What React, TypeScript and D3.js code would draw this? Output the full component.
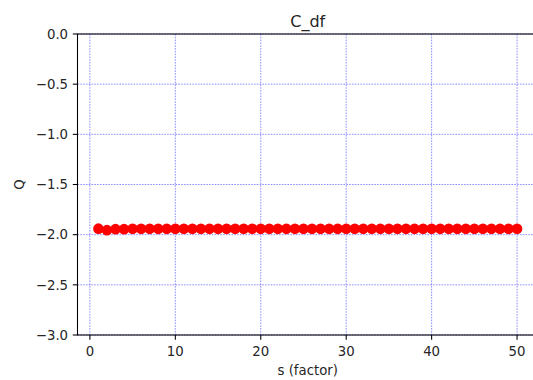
import React from "react";
import * as d3 from "d3";

// Series: s (factor) from 1 to 50, Q values
const sValues: number[] = Array.from({ length: 50 }, (_, i) => i + 1);
const qValues: number[] = [
  -1.94, -1.955, -1.945, -1.945, -1.942, -1.942, -1.942, -1.942, -1.942, -1.942,
  -1.942, -1.942, -1.942, -1.942, -1.942, -1.942, -1.942, -1.942, -1.942, -1.942,
  -1.942, -1.942, -1.942, -1.942, -1.942, -1.942, -1.942, -1.942, -1.942, -1.942,
  -1.942, -1.942, -1.942, -1.942, -1.942, -1.942, -1.942, -1.942, -1.942, -1.942,
  -1.942, -1.942, -1.942, -1.942, -1.942, -1.942, -1.942, -1.942, -1.942, -1.942,
];
const xTicks: number[] = [0, 10, 20, 30, 40, 50];
const yTicks: number[] = [0, -0.5, -1, -1.5, -2, -2.5, -3];
const title = "C_df";
const xLabel = "s (factor)";
const yLabel = "Q";

const W = 533;
const H = 380;
const left = 77.5;
const right = 538;
const top = 34;
const bottom = 335;
const tickLen = 4.7;
const tickPad = 4.7;

const fmtY = (v: number) => (v < 0 ? "\u2212" : "") + Math.abs(v).toFixed(1);

export default function App() {
  const x = d3.scaleLinear().domain([1 - 2.45, 50 + 2.45]).range([left, right]);
  const y = d3.scaleLinear().domain([-3, 0]).range([bottom, top]);
  const font = "DejaVu Sans, sans-serif";
  const textColor = "#262626";
  const gridStyle = { stroke: "#0000ff", strokeWidth: 0.8, strokeDasharray: "1.6,1.2", opacity: 0.55 };

  return (
    <div style={{ position: "absolute", left: 0, top: 0, width: W, height: H, overflow: "hidden", background: "#fff" }}>
      <svg width={W} height={H} style={{ display: "block" }} fontFamily={font}>
        <rect x={0} y={0} width={W} height={H} fill="#fff" />
        {/* grid */}
        {xTicks.map((t) => (
          <line key={"gx" + t} x1={x(t)} x2={x(t)} y1={top} y2={bottom} {...gridStyle} />
        ))}
        {yTicks.map((t) => (
          <line key={"gy" + t} x1={left} x2={right} y1={y(t)} y2={y(t)} {...gridStyle} />
        ))}
        {/* markers */}
        {sValues.map((s, i) => (
          <circle key={"p" + s} cx={x(s)} cy={y(qValues[i])} r={5.3} fill="#ff0000" />
        ))}
        {/* spines */}
        <rect x={left} y={top} width={right - left} height={bottom - top} fill="none" stroke="#000" strokeWidth={1.07} />
        {/* x ticks */}
        {xTicks.map((t) => (
          <g key={"xt" + t}>
            <line x1={x(t)} x2={x(t)} y1={bottom} y2={bottom + tickLen} stroke="#000" strokeWidth={1.07} />
            <text x={x(t)} y={bottom + 21} fontSize={13.3} textAnchor="middle" fill={textColor}>
              {t}
            </text>
          </g>
        ))}
        {/* y ticks */}
        {yTicks.map((t) => (
          <g key={"yt" + t}>
            <line x1={left - tickLen} x2={left} y1={y(t)} y2={y(t)} stroke="#000" strokeWidth={1.07} />
            <text x={left - tickLen - tickPad} y={y(t) + 4.8} fontSize={13.3} textAnchor="end" fill={textColor}>
              {fmtY(t)}
            </text>
          </g>
        ))}
        {/* labels */}
        <text x={(left + right) / 2} y={27} fontSize={16} textAnchor="middle" fill={textColor}>
          {title}
        </text>
        <text x={(left + right) / 2} y={375} fontSize={13.3} textAnchor="middle" fill={textColor}>
          {xLabel}
        </text>
        <text
          transform={`translate(24, ${(top + bottom) / 2}) rotate(-90)`}
          fontSize={13.3}
          textAnchor="middle"
          fill={textColor}
        >
          {yLabel}
        </text>
      </svg>
    </div>
  );
}
